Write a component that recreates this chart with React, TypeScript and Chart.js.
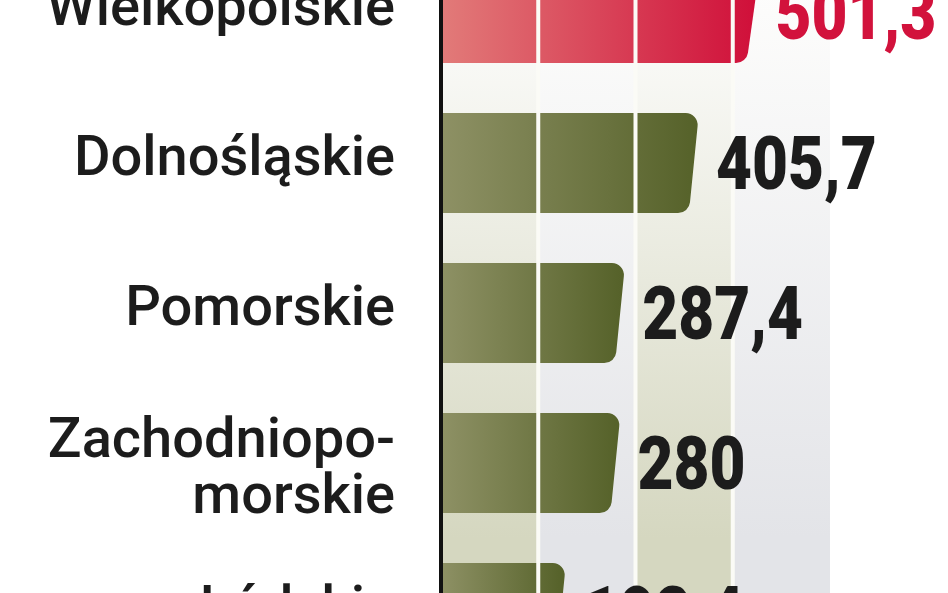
import React, { useEffect, useRef } from 'react';
import { Chart, registerables } from 'chart.js';

Chart.register(...registerables);

// ---- data ----
const categories = ['Wielkopolskie', 'Dolnośląskie', 'Pomorskie', 'Zachodniopomorskie', 'Łódzkie'];
const tickLabels: (string | string[])[] = ['Wielkopolskie', 'Dolnośląskie', 'Pomorskie', ['Zachodniopo-', 'morskie'], 'Łódzkie'];
const values = [501.3, 405.7, 287.4, 280, 192.4];
const highlighted = ['Wielkopolskie'];
const axisMax = 624;
const gridStep = 156;

// ---- style ----
const RED_LIGHT = '#e27b79';
const RED_DARK = '#d0103a';
const OLIVE_LIGHT = '#8e9165';
const OLIVE_DARK = '#56622a';
const BAND_A = '#d5d7c0';
const BAND_B = '#e3e4e8';
const VALUE_RED = '#d2123c';
const TEXT_DARK = '#1c1c1c';
const LABEL_FONT = '500 56px Roboto, "DejaVu Sans", sans-serif';
const VALUE_FONT = '900 74px Roboto, "DejaVu Sans", sans-serif';

const formatValue = (v: number) => String(v).replace('.', ',');

const decorPlugin = {
  id: 'decor',
  beforeDatasetsDraw(chart: any) {
    const { ctx, chartArea: a, scales } = chart;
    const x = scales.x;
    const px: number[] = x.ticks.map((t: any) => x.getPixelForValue(t.value));
    ctx.save();
    for (let i = 0; i < px.length - 1; i++) {
      const g = ctx.createLinearGradient(0, a.top, 0, a.bottom);
      const c = i % 2 === 0 ? BAND_A : BAND_B;
      g.addColorStop(0, '#ffffff');
      g.addColorStop(0.1, '#fcfcfb');
      g.addColorStop(0.8, c);
      g.addColorStop(1, c);
      ctx.fillStyle = g;
      ctx.fillRect(px[i], a.top, px[i + 1] - px[i], a.bottom - a.top);
    }
    ctx.restore();
  },
  afterDatasetsDraw(chart: any) {
    const { ctx, chartArea: a, scales } = chart;
    const meta = chart.getDatasetMeta(0);
    const r = 12;
    ctx.save();
    meta.data.forEach((el: any, i: number) => {
      const { x, y, base, height } = el.getProps(['x', 'y', 'base', 'height'], true);
      const top = y - height / 2;
      const bottom = y + height / 2;
      const hl = highlighted.includes(categories[i]);
      const s = hl ? 7 : 5;
      const g = ctx.createLinearGradient(base, 0, x, 0);
      g.addColorStop(0, hl ? RED_LIGHT : OLIVE_LIGHT);
      g.addColorStop(1, hl ? RED_DARK : OLIVE_DARK);
      ctx.fillStyle = g;
      ctx.beginPath();
      ctx.moveTo(base, top);
      ctx.arcTo(x + s, top, x - s, bottom, r);
      ctx.arcTo(x - s, bottom, base, bottom, r);
      ctx.lineTo(base, bottom);
      ctx.closePath();
      ctx.fill();
    });
    // white separators at grid ticks
    const xs = scales.x;
    ctx.fillStyle = '#fbfbf6';
    xs.ticks.forEach((t: any, i: number) => {
      if (i === 0 || i === xs.ticks.length - 1) return;
      const p = xs.getPixelForValue(t.value);
      ctx.fillRect(p - 2, a.top, 4, a.bottom - a.top);
    });
    ctx.restore();
  },
  afterDraw(chart: any) {
    const { ctx, scales } = chart;
    const ys = scales.y;
    const meta = chart.getDatasetMeta(0);
    // category labels
    ctx.save();
    ctx.font = LABEL_FONT;
    ctx.fillStyle = TEXT_DARK;
    ctx.textAlign = 'right';
    ctx.textBaseline = 'alphabetic';
    const lineH = 56;
    tickLabels.forEach((lab, i) => {
      const lines = Array.isArray(lab) ? lab : [lab];
      const cy = ys.getPixelForValue(i);
      const n = lines.length;
      const extra = n > 1 ? 10 : 0;
      lines.forEach((ln, j) => {
        const by = cy + 12 + (j - (n - 1) / 2) * lineH + extra;
        ctx.fillText(ln, ys.right - 46, by);
      });
    });
    ctx.restore();
    // value labels
    meta.data.forEach((el: any, i: number) => {
      const { x, y } = el.getProps(['x', 'y'], true);
      const hl = highlighted.includes(categories[i]);
      ctx.save();
      ctx.font = VALUE_FONT;
      ctx.textBaseline = 'alphabetic';
      ctx.textAlign = 'left';
      ctx.fillStyle = hl ? VALUE_RED : TEXT_DARK;
      ctx.translate(x + 22, y + 26);
      ctx.scale(0.84, 1);
      ctx.fillText(formatValue(values[i]), 0, 0);
      ctx.restore();
    });
  },
};

export default function App() {
  const ref = useRef<HTMLCanvasElement>(null);

  useEffect(() => {
    if (!ref.current) return;
    const chart = new Chart(ref.current, {
      type: 'bar',
      data: {
        labels: categories,
        datasets: [
          {
            data: values,
            backgroundColor: 'rgba(0,0,0,0)',
            borderWidth: 0,
            categoryPercentage: 1,
            barPercentage: 100 / 150,
          },
        ],
      },
      options: {
        indexAxis: 'y',
        animation: false,
        responsive: true,
        maintainAspectRatio: false,
        layout: { padding: { left: 0, right: 118, top: 0, bottom: 0 } },
        plugins: {
          legend: { display: false },
          tooltip: { enabled: false },
        },
        scales: {
          x: {
            display: false,
            min: 0,
            max: axisMax,
            ticks: { stepSize: gridStep },
          },
          y: {
            grid: { display: false, drawTicks: false },
            border: { display: true, color: '#111111', width: 4, z: 1 },
            ticks: { display: false },
            afterFit: (s: any) => {
              s.width = 441;
              s.paddingTop = 0;
              s.paddingBottom = 0;
            },
          },
        },
      } as any,
      plugins: [decorPlugin],
    });
    return () => chart.destroy();
  }, []);

  return (
    <div
      style={{
        position: 'fixed',
        left: 0,
        top: 0,
        width: 948,
        height: 593,
        overflow: 'hidden',
        background: '#ffffff',
      }}
    >
      <div style={{ position: 'absolute', left: 0, top: -62, width: 948, height: 750 }}>
        <canvas ref={ref} />
      </div>
    </div>
  );
}
